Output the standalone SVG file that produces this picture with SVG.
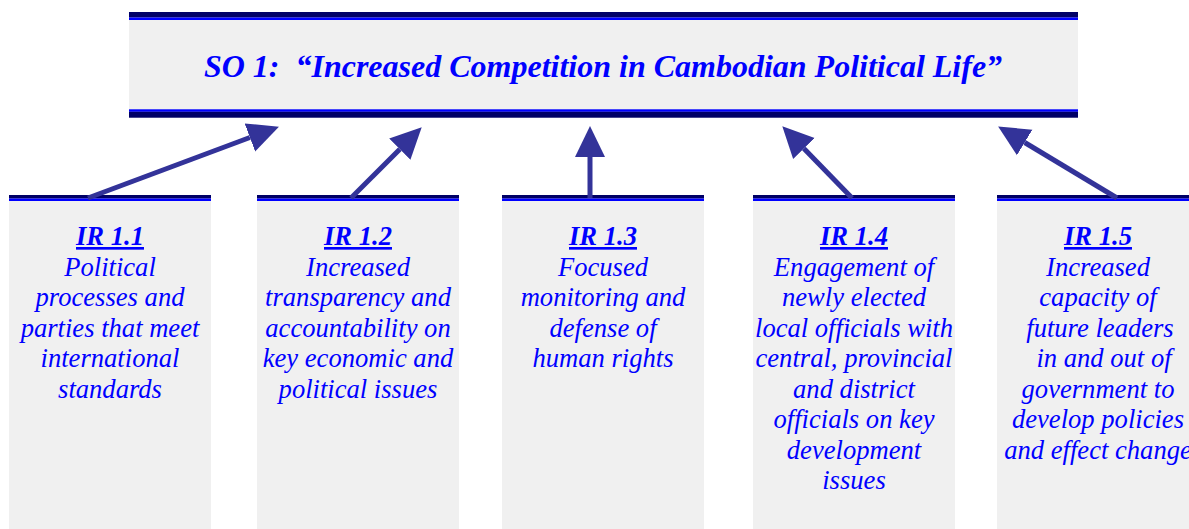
<svg xmlns="http://www.w3.org/2000/svg" width="1189" height="529" viewBox="0 0 1189 529">
<style>
.fill{fill:#f0f0f0}
.dark{fill:#000066}
.blue{fill:#0000ff}
.t{font-family:"Liberation Serif","Times New Roman",serif;font-style:italic;fill:#0000ff;text-anchor:middle}
.title{font-size:32px;font-weight:bold}
.body{font-size:26.6px}
.hd{font-weight:bold;text-decoration:underline}
.conn line{stroke:#333399;stroke-width:5}
</style>
<defs>
<marker id="ah" markerUnits="userSpaceOnUse" markerWidth="32" markerHeight="32" refX="0" refY="15" orient="auto" viewBox="0 0 32 30">
<path d="M0,0 L31,15 L0,30 Z" fill="#333399"/>
</marker>
</defs>
<rect width="1189" height="529" fill="#fff"/>
<g id="so1">
<rect class="fill" x="129" y="12" width="949" height="106"/>
<rect class="dark" x="129" y="12" width="949" height="5.5"/>
<rect class="blue" x="129" y="17.5" width="949" height="2.5"/>
<rect class="blue" x="129" y="109.3" width="949" height="2.5"/>
<rect class="dark" x="129" y="111.8" width="949" height="5.9"/>
<text class="t title" x="603" y="77" xml:space="preserve">SO 1:  “Increased Competition in Cambodian Political Life”</text>
</g>
<g id="ir11">
<rect class="fill" x="9" y="195" width="202" height="334"/>
<rect class="dark" x="9" y="195" width="202" height="3.5"/>
<rect class="blue" x="9" y="198.5" width="202" height="2.5"/>
<text class="t body" x="110"><tspan class="hd" x="110" y="245">IR 1.1</tspan><tspan x="110" y="275.5">Political</tspan><tspan x="110" y="306">processes and</tspan><tspan x="110" y="336.5">parties that meet</tspan><tspan x="110" y="367">international</tspan><tspan x="110" y="397.5">standards</tspan></text>
</g>
<g id="ir12">
<rect class="fill" x="257" y="195" width="202" height="334"/>
<rect class="dark" x="257" y="195" width="202" height="3.5"/>
<rect class="blue" x="257" y="198.5" width="202" height="2.5"/>
<text class="t body" x="358"><tspan class="hd" x="358" y="245">IR 1.2</tspan><tspan x="358" y="275.5">Increased</tspan><tspan x="358" y="306">transparency and</tspan><tspan x="358" y="336.5">accountability on</tspan><tspan x="358" y="367">key economic and</tspan><tspan x="358" y="397.5">political issues</tspan></text>
</g>
<g id="ir13">
<rect class="fill" x="502" y="195" width="202" height="334"/>
<rect class="dark" x="502" y="195" width="202" height="3.5"/>
<rect class="blue" x="502" y="198.5" width="202" height="2.5"/>
<text class="t body" x="603"><tspan class="hd" x="603" y="245">IR 1.3</tspan><tspan x="603" y="275.5">Focused</tspan><tspan x="603" y="306">monitoring and</tspan><tspan x="603" y="336.5">defense of</tspan><tspan x="603" y="367">human rights</tspan></text>
</g>
<g id="ir14">
<rect class="fill" x="753" y="195" width="202" height="334"/>
<rect class="dark" x="753" y="195" width="202" height="3.5"/>
<rect class="blue" x="753" y="198.5" width="202" height="2.5"/>
<text class="t body" x="854"><tspan class="hd" x="854" y="245">IR 1.4</tspan><tspan x="854" y="275.5">Engagement of</tspan><tspan x="854" y="306">newly elected</tspan><tspan x="854" y="336.5">local officials with</tspan><tspan x="854" y="367">central, provincial</tspan><tspan x="854" y="397.5">and district</tspan><tspan x="854" y="428">officials on key</tspan><tspan x="854" y="458.5">development</tspan><tspan x="854" y="489">issues</tspan></text>
</g>
<g id="ir15">
<rect class="fill" x="997" y="195" width="202" height="334"/>
<rect class="dark" x="997" y="195" width="202" height="3.5"/>
<rect class="blue" x="997" y="198.5" width="202" height="2.5"/>
<text class="t body" x="1098"><tspan class="hd" x="1098" y="245">IR 1.5</tspan><tspan x="1098" y="275.5">Increased</tspan><tspan x="1098" y="306">capacity of</tspan><tspan x="1100" y="336.5">future leaders</tspan><tspan x="1104" y="367">in and out of</tspan><tspan x="1098" y="397.5">government to</tspan><tspan x="1098" y="428">develop policies</tspan><tspan x="1098" y="458.5">and effect change</tspan></text>
</g>
<g id="connectors" class="conn">
<line x1="88" y1="198" x2="249.9" y2="137.5" marker-end="url(#ah)"/>
<line x1="351" y1="198" x2="399.8" y2="149.2" marker-end="url(#ah)"/>
<line x1="590" y1="198" x2="590" y2="157" marker-end="url(#ah)"/>
<line x1="852" y1="198" x2="803.9" y2="148.5" marker-end="url(#ah)"/>
<line x1="1117" y1="198" x2="1024.7" y2="142.5" marker-end="url(#ah)"/>
</g>
</svg>
